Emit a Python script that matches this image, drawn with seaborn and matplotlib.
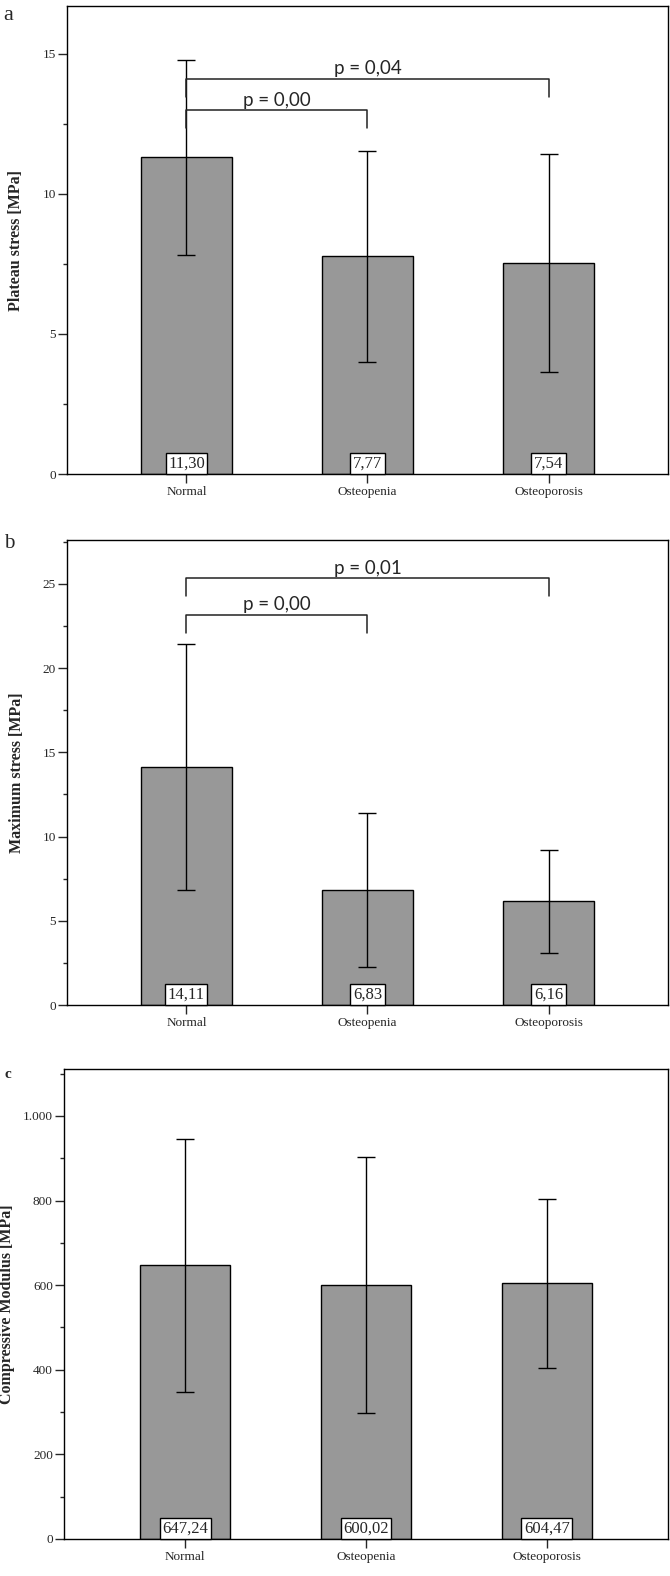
import matplotlib
matplotlib.use("Agg")
import matplotlib.pyplot as plt
import seaborn as sns
from matplotlib.ticker import MultipleLocator, FuncFormatter

# groups
categories = ["Normal", "Osteopenia", "Osteoporosis"]

# panel a: plateau stress
plateau_mean = [11.30, 7.77, 7.54]
plateau_sd = [3.48, 3.77, 3.89]

# panel b: maximum stress
maxstress_mean = [14.11, 6.83, 6.16]
maxstress_sd = [7.30, 4.55, 3.05]

# panel c: compressive modulus
modulus_mean = [647.24, 600.02, 604.47]
modulus_sd = [299.0, 303.0, 200.0]

# significance brackets: (group from, group to, bracket height, label)
plateau_pvals = [(0, 2, 14.10, "p = 0,04"), (0, 1, 12.98, "p = 0,00")]
maxstress_pvals = [(0, 2, 25.33, "p = 0,01"), (0, 1, 23.16, "p = 0,00")]

SERIF = ["Liberation Serif", "DejaVu Serif"]
SANS = ["Lato", "DejaVu Sans"]

sns.set_style("ticks")
plt.rcParams["font.family"] = SERIF
plt.rcParams["axes.linewidth"] = 1.0


def thousands(v, pos):
    return f"{int(v):,}".replace(",", ".")


def draw_panel(ax, means, sds, ylabel, ymax, major, minor, pvals=None, drop=0.0,
               ylabel_x=-0.085, xlim=(-0.66, 2.66), fmt=None):
    sns.barplot(x=categories, y=means, ax=ax, color="#989898", saturation=1,
                edgecolor="black", linewidth=1, width=0.5, errorbar=None)
    ax.errorbar(range(len(means)), means, yerr=sds, fmt="none", ecolor="black",
                elinewidth=1, capsize=6.5, capthick=1)
    for i, m in enumerate(means):
        ax.annotate(f"{m:.2f}".replace(".", ","), xy=(i, 0), xytext=(0, 1.8),
                    textcoords="offset points", ha="center", va="bottom", fontsize=12,
                    bbox=dict(boxstyle="square,pad=0.15", fc="white", ec="black", lw=1))
    if pvals:
        for g0, g1, y, txt in pvals:
            ax.plot([g0, g0, g1, g1], [y - drop, y, y, y - drop], color="#222222", lw=1.1)
            ax.text((g0 + g1) / 2, y + drop * 0.08, txt, ha="center", va="bottom",
                    fontsize=13.5, family=SANS)
    ax.set_xlim(*xlim)
    ax.set_ylim(0, ymax)
    ax.yaxis.set_major_locator(MultipleLocator(major))
    ax.yaxis.set_minor_locator(MultipleLocator(minor))
    if fmt is not None:
        ax.yaxis.set_major_formatter(FuncFormatter(fmt))
    ax.tick_params(axis="y", which="major", length=6.5, width=1, pad=1.5, labelsize=9.5)
    ax.tick_params(axis="y", which="minor", length=3.2, width=1)
    ax.tick_params(axis="x", length=6.5, width=1, pad=2, labelsize=9.5)
    ax.set_xlabel("")
    ax.set_ylabel("")
    ax.text(ylabel_x, 0.5, ylabel, transform=ax.transAxes, rotation=90, ha="center",
            va="center", fontsize=11.5, fontweight="bold")
    for s in ax.spines.values():
        s.set_visible(True)
        s.set_color("black")
        s.set_linewidth(1)


fig = plt.figure(figsize=(6.7, 15.76), dpi=100)
ax_a = fig.add_axes([0.1, 0.6992, 0.897, 0.2970])
ax_b = fig.add_axes([0.1, 0.3623, 0.897, 0.2951])
ax_c = fig.add_axes([0.0955, 0.02348, 0.9015, 0.2980])

draw_panel(ax_a, plateau_mean, plateau_sd, "Plateau stress [MPa]", 16.7, 5, 2.5,
           pvals=plateau_pvals, drop=0.65, ylabel_x=-0.085)
draw_panel(ax_b, maxstress_mean, maxstress_sd, "Maximum stress [MPa]", 27.6, 5, 2.5,
           pvals=maxstress_pvals, drop=1.08, ylabel_x=-0.084)
draw_panel(ax_c, modulus_mean, modulus_sd, "Compressive Modulus [MPa]", 1110, 200, 100,
           ylabel_x=-0.095, xlim=(-0.67, 2.67), fmt=thousands)

fig.text(8 / 670, 1 - 15 / 1576, "a", ha="center", va="center", fontsize=16)
fig.text(9 / 670, 1 - 544 / 1576, "b", ha="center", va="center", fontsize=15)
fig.text(8 / 670, 1 - 1074 / 1576, "c", ha="center", va="center", fontsize=11,
         fontweight="bold")

fig.savefig("out.png", dpi=100)
plt.close(fig)
